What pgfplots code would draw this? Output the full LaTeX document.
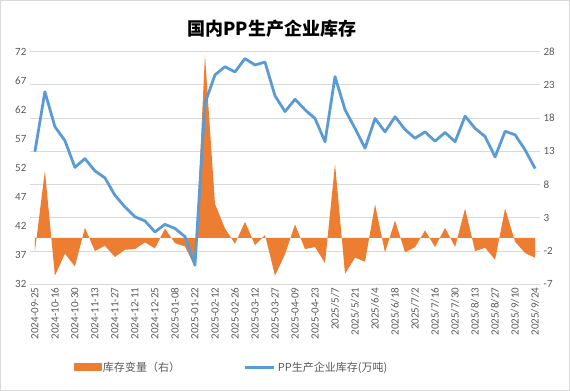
\documentclass[border=0pt]{standalone}
\usepackage{fontspec}
\setmainfont{Carlito}
\newfontfamily\cjk{Noto Sans CJK SC}
\usepackage{pgfplots}
\usepackage{pgfplotstable}
\pgfplotsset{compat=1.18}
\definecolor{cOrange}{HTML}{ED7D31}
\definecolor{cBlue}{HTML}{5B9BD5}
\definecolor{cGrid}{HTML}{D9D9D9}
\definecolor{cText}{HTML}{595959}

\pgfplotstableread{
x line chg
0 54.8 -2.1
1 65.1 10.1
2 59.1 -5.7
3 56.7 -2.4
4 52.1 -4.3
5 53.6 1.5
6 51.5 -2.0
7 50.3 -1.2
8 47.3 -2.9
9 45.3 -1.8
10 43.6 -1.7
11 42.9 -0.7
12 41.0 -1.6
13 42.3 1.4
14 41.6 -0.8
15 40.2 -1.3
16 35.3 -4.4
17 63.1 27.5
18 68.0 5.1
19 69.4 1.4
20 68.5 -0.9
21 70.8 2.4
22 69.7 -1.1
23 70.2 0.4
24 64.4 -5.7
25 61.7 -2.5
26 63.8 2.0
27 62.0 -1.7
28 60.5 -1.4
29 56.5 -3.8
30 67.7 11.1
31 62.0 -5.4
32 58.8 -3.0
33 55.4 -3.6
34 60.5 5.0
35 58.2 -2.2
36 60.8 2.6
37 58.6 -2.2
38 57.1 -1.4
39 58.2 1.1
40 56.6 -1.4
41 58.1 1.5
42 56.5 -1.4
43 60.9 4.4
44 58.8 -2.0
45 57.4 -1.5
46 53.9 -3.3
47 58.3 4.4
48 57.7 -0.6
49 55.1 -2.3
50 51.9 -3.0
}\data

\begin{document}
\begin{tikzpicture}
\draw[cGrid, line width=0.75pt] (0.5pt,0.5pt) rectangle (569.5pt,390.5pt);
\begin{axis}[
  at={(30pt,106.7pt)}, anchor=south west,
  scale only axis, width=510pt, height=232.6pt,
  xmin=-0.5, xmax=50.5,
  ymin=-7, ymax=28, ytick={-7,-2,...,28},
  yticklabel pos=right,
  ymajorgrids, grid style={cGrid, line width=0.75pt},
  xtick={0,2,...,50},
  xticklabels={2024-09-25,2024-10-16,2024-10-30,2024-11-13,2024-11-27,2024-12-11,2024-12-25,2025-01-08,2025-01-22,2025-02-12,2025-02-26,2025-03-12,2025-03-27,2025-04-09,2025-04-23,2025/5/7,2025/5/21,2025/6/4,2025/6/18,2025/7/2,2025/7/16,2025/7/30,2025/8/13,2025/8/27,2025/9/10,2025/9/24},
  x tick label style={rotate=90, anchor=east},
  axis line style={draw=none}, major tick length=0pt,
  tick label style={font=\fontsize{11}{13}\selectfont, text=cText},
  /pgf/number format/assume math mode=true,
]
\addplot[fill=cOrange, draw=none] table[x=x,y=chg]{\data} \closedcycle;
\end{axis}
\begin{axis}[
  at={(30pt,106.7pt)}, anchor=south west,
  scale only axis, width=510pt, height=232.6pt,
  xmin=-0.5, xmax=50.5,
  ymin=32, ymax=72, ytick={32,37,...,72},
  xtick=\empty,
  axis line style={draw=none}, major tick length=0pt,
  tick label style={font=\fontsize{11}{13}\selectfont, text=cText},
  /pgf/number format/assume math mode=true,
  legend columns=2,
  legend style={at={(0.395,-0.356)}, anchor=center, draw=none, fill=none,
    font=\cjk\fontsize{11}{13}\selectfont, text=cText,
    /tikz/every even column/.append style={column sep=62pt}},
]
\addlegendimage{legend image code/.code={\fill[cOrange] (0pt,-3.5pt) rectangle (27pt,3.5pt);}}
\addlegendentry{库存变量（右）}
\addplot[cBlue, line width=2.8pt, line join=round, mark=none,
  legend image code/.code={\draw[cBlue, line width=2.8pt] (0pt,0pt) -- (29pt,0pt);}]
  table[x=x,y=line]{\data};
\addlegendentry{PP生产企业库存(万吨)}
\end{axis}
\node[font=\cjk\bfseries\fontsize{18}{20}\selectfont, text=black] at (272pt,362pt) {国内PP生产企业库存};
\end{tikzpicture}
\end{document}
